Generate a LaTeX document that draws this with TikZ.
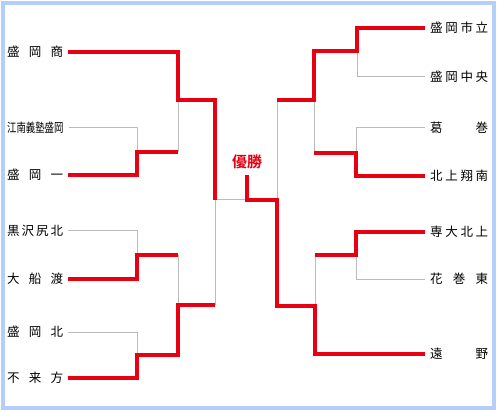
\documentclass[tikz,border=0pt]{standalone}
\usepackage{fontspec}
\usepackage{graphicx}
\newfontfamily\jp{Noto Sans CJK JP}
\newfontfamily\jpb{Noto Sans CJK JP Bold}
\definecolor{winred}{HTML}{E60012}
\definecolor{losegrey}{HTML}{BBBBBB}
\definecolor{framebl}{HTML}{B3CEF8}
\newcommand\kspread[2]{\makebox[#1][s]{#2}}
\tikzset{
  lab/.style={inner sep=0pt, font=\jp\fontsize{12.5}{14}\selectfont},
  llab/.style={lab, anchor=west},
  rlab/.style={lab, anchor=west},
  win/.style={draw=winred, line width=4pt, line join=miter},
  lose/.style={draw=losegrey, line width=1pt}
}
\begin{document}
\begin{tikzpicture}[x=1pt,y=-1pt]
\useasboundingbox (0,0) rectangle (497,411);
\fill[white] (0,0) rectangle (497,411);
\draw[framebl, line width=4pt] (3,3) rectangle (494,408);
% left labels
\node[llab] (l1) at (7,52)  {\kspread{56pt}{盛\hfil 岡\hfil 商}};
\node[llab] (l2) at (7,128) {\scalebox{0.75}[1]{江南義塾盛岡}};
\node[llab] (l3) at (7,175) {\kspread{56pt}{盛\hfil 岡\hfil 一}};
\node[llab] (l4) at (7,231) {\kspread{56pt}{黒\hfil 沢\hfil 尻\hfil 北}};
\node[llab] (l5) at (7,279) {\kspread{56pt}{大\hfil 船\hfil 渡}};
\node[llab] (l6) at (7,332) {\kspread{56pt}{盛\hfil 岡\hfil 北}};
\node[llab] (l7) at (7,378) {\kspread{56pt}{不\hfil 来\hfil 方}};
% right labels
\node[rlab] (r1) at (430,28)  {\kspread{58pt}{盛\hfil 岡\hfil 市\hfil 立}};
\node[rlab] (r2) at (430,77)  {\kspread{58pt}{盛\hfil 岡\hfil 中\hfil 央}};
\node[rlab] (r3) at (430,128) {\kspread{58pt}{葛\hfil 巻}};
\node[rlab] (r4) at (430,176) {\kspread{58pt}{北\hfil 上\hfil 翔\hfil 南}};
\node[rlab] (r5) at (430,232) {\kspread{58pt}{専\hfil 大\hfil 北\hfil 上}};
\node[rlab] (r6) at (430,279) {\kspread{58pt}{花\hfil 巻\hfil 東}};
\node[rlab] (r7) at (430,354) {\kspread{58pt}{遠\hfil 野}};
\node[inner sep=0pt, text=winred, font=\jpb\fontsize{15}{16}\selectfont] (yusho) at (247,162) {優勝};
% junctions
\coordinate (q1) at (137,152);
\coordinate (q2) at (137,255);
\coordinate (q3) at (137,355);
\coordinate (s1) at (178,100);
\coordinate (s2) at (178,305);
\coordinate (fL) at (215,200);
\coordinate (champ) at (247,200);
\coordinate (rq1) at (357,51);
\coordinate (rq2) at (356,153);
\coordinate (rq3) at (356,255);
\coordinate (rs1) at (314,100);
\coordinate (rs2) at (315,306);
\coordinate (fR) at (277,200);
\coordinate (l1e) at ([xshift=5pt]l1.east);
\coordinate (l2e) at ([xshift=5pt]l2.east);
\coordinate (l3e) at ([xshift=5pt]l3.east);
\coordinate (l4e) at ([xshift=5pt]l4.east);
\coordinate (l5e) at ([xshift=5pt]l5.east);
\coordinate (l6e) at ([xshift=5pt]l6.east);
\coordinate (l7e) at ([xshift=5pt]l7.east);
\coordinate (r1w) at ([xshift=-5pt]r1.west);
\coordinate (r2w) at ([xshift=-5pt]r2.west);
\coordinate (r3w) at ([xshift=-5pt]r3.west);
\coordinate (r4w) at ([xshift=-5pt]r4.west);
\coordinate (r5w) at ([xshift=-5pt]r5.west);
\coordinate (r6w) at ([xshift=-5pt]r6.west);
\coordinate (r7w) at ([xshift=-5pt]r7.west);
% losing lines
\draw[lose] (l2e) -| (q1);
\draw[lose] (q1 -| s1) -- (s1);
\draw[lose] (l4e) -| (q2);
\draw[lose] (q2 -| s1) -- (s2);
\draw[lose] (l6e) -| (q3);
\draw[lose] (s2 -| fL) -- (fL);
\draw[lose] (fL) -- (champ);
\draw[lose] (r2w) -| (rq1);
\draw[lose] (r3w) -| (rq2);
\draw[lose] (rq2 -| rs1) -- (rs1);
\draw[lose] (rs1 -| fR) -- (fR);
\draw[lose] (r6w) -| (rq3);
\draw[lose] (rq3 -| rs2) -- (rs2);
% winning lines
\draw[win] (l1e) -| (s1) -| (fL);
\draw[win] (l3e) -| (q1) -- (q1 -| s1);
\draw[win] (l5e) -| (q2) -- (q2 -| s1);
\draw[win] (l7e) -| (q3) -- (q3 -| s2) -- (s2) -- (s2 -| fL);
\draw[win] (r1w) -| (rq1) -| (rs1) -- (rs1 -| fR);
\draw[win] (r4w) -| (rq2) -- (rq2 -| rs1);
\draw[win] (r5w) -| (rq3) -- (rq3 -| rs2);
\draw[win] (r7w) -| (rs2) -| (fR) -- (champ) -- ([yshift=-5.5pt]yusho.south);
\end{tikzpicture}
\end{document}
